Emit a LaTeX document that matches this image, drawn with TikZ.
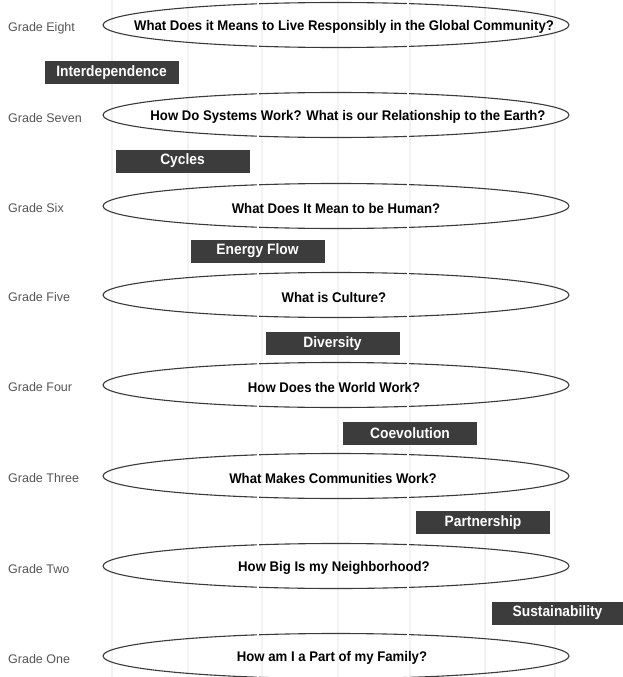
\documentclass[tikz,border=0pt]{standalone}
\usepackage{fontspec}
\setmainfont{Liberation Sans}
\newfontfamily\qfont[FakeStretch=0.94]{Liberation Sans}
\newfontfamily\bfontx[FakeStretch=0.92]{Liberation Sans}
\usetikzlibrary{shapes.geometric}
\definecolor{boxgray}{HTML}{3C3C3C}
\definecolor{linegray}{HTML}{3A3A3A}
\definecolor{labelgray}{HTML}{555555}
\tikzset{
  qell/.style={draw=linegray, line width=1.1pt, ellipse, minimum width=466pt, minimum height=45pt, inner sep=0pt},
  qtext/.style={inner sep=0pt, font=\qfont\bfseries\fontsize{14}{16}\selectfont, text=black},
  gradelabel/.style={anchor=west, inner sep=0pt, font=\fontsize{12.5}{14}\selectfont, text=labelgray},
  themebox/.style={fill=boxgray, draw=none, minimum width=134pt, minimum height=23pt, inner sep=0pt,
    font=\bfontx\bfseries\fontsize{15}{17}\selectfont, text=white},
  faint/.style={draw=black!5, line width=1.5pt},
  gapmark/.style={draw=white, line width=2.5pt}
}
\begin{document}
\begin{tikzpicture}[x=1pt,y=-1pt]
\useasboundingbox (0,0) rectangle (623,677);
\fill[white] (0,0) rectangle (623,677);
% faint vertical guide lines
\foreach \xx in {112,188,262,338,410,485,555} {
  \draw[faint] (\xx,0) -- (\xx,677);
}
% ellipses
\node[qell] (e8) at (336,25) {};
\node[qell] (e7) at (336,115) {};
\node[qell] (e6) at (336,206) {};
\node[qell] (e5) at (336,295) {};
\node[qell] (e4) at (336,385) {};
\node[qell] (e3) at (336,476) {};
\node[qell] (e2) at (336,566) {};
\node[qell] (e1) at (336,656) {};
\node[qtext] (q8) at ([xshift=8pt,yshift=-2pt]e8.center) {What Does it Means to Live Responsibly in the Global Community?};
\node[qtext] (q7) at ([xshift=12pt,yshift=-2pt]e7.center) {How Do Systems Work? What is our Relationship to the Earth?};
\node[qtext] (q6) at ([xshift=0pt,yshift=-2pt]e6.center) {What Does It Mean to be Human?};
\node[qtext] (q5) at ([xshift=-2pt,yshift=-2pt]e5.center) {What is Culture?};
\node[qtext] (q4) at ([xshift=-2pt,yshift=-2pt]e4.center) {How Does the World Work?};
\node[qtext] (q3) at ([xshift=-3pt,yshift=-2pt]e3.center) {What Makes Communities Work?};
\node[qtext] (q2) at ([xshift=-2pt,yshift=-2pt]e2.center) {How Big Is my Neighborhood?};
\node[qtext] (q1) at ([xshift=-4pt,yshift=-2pt]e1.center) {How am I a Part of my Family?};
% small breaks in outlines
\foreach \e in {e8,e7,e6,e5,e4,e3,e2,e1} {
  \draw[gapmark] ([xshift=-78pt,yshift=-4pt]\e.north) -- ([xshift=-78pt,yshift=4pt]\e.north);
  \draw[gapmark] ([xshift=72pt,yshift=-4pt]\e.north) -- ([xshift=72pt,yshift=4pt]\e.north);
  \draw[gapmark] ([xshift=-78pt,yshift=-4pt]\e.south) -- ([xshift=-78pt,yshift=4pt]\e.south);
  \draw[gapmark] ([xshift=72pt,yshift=-4pt]\e.south) -- ([xshift=72pt,yshift=4pt]\e.south);
}
% grade labels
\node[gradelabel] (g8) at (8,28.5) {Grade Eight};
\node[gradelabel] (g7) at (8,118.5) {Grade Seven};
\node[gradelabel] (g6) at (8,208.5) {Grade Six};
\node[gradelabel] (g5) at (8,297.5) {Grade Five};
\node[gradelabel] (g4) at (8,387.5) {Grade Four};
\node[gradelabel] (g3) at (8,478.5) {Grade Three};
\node[gradelabel] (g2) at (8,569.5) {Grade Two};
\node[gradelabel] (g1) at (8,659.5) {Grade One};
% theme boxes
\node[themebox] (t1) at (111.5,72.5) {Interdependence};
\node[themebox] (t2) at (182.5,161) {Cycles};
\node[themebox] (t3) at (257.5,251) {Energy Flow};
\node[themebox] (t4) at (332.5,343.5) {Diversity};
\node[themebox] (t5) at (410,433.5) {Coevolution};
\node[themebox] (t6) at (483,522.5) {Partnership};
\node[themebox, minimum width=131pt] (t7) at (557.5,613) {Sustainability};
\end{tikzpicture}
\end{document}
